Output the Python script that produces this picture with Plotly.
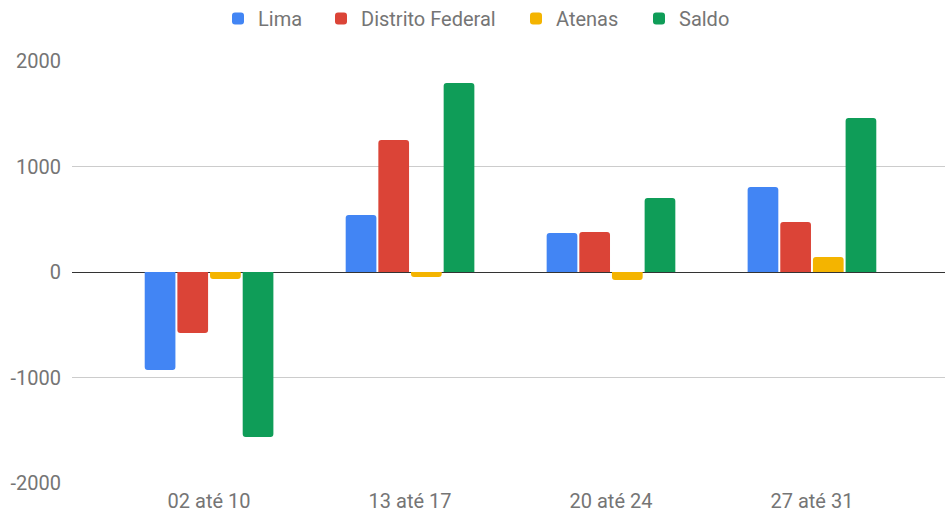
import plotly.graph_objects as go

categories = ["02 até 10", "13 até 17", "20 até 24", "27 até 31"]
lima = [-929, 540, 370, 806]
distrito_federal = [-578, 1251, 379, 474]
atenas = [-66, -47, -76, 142]
saldo = [-1564, 1791, 701, 1460]
y_ticks = [-2000, -1000, 0, 1000, 2000]
y_tick_labels = ["-2000", "-1000", "0", "1000", "2000"]

series = [
    ("Lima", lima, "#4285F4"),
    ("Distrito Federal", distrito_federal, "#DB4437"),
    ("Atenas", atenas, "#F4B400"),
    ("Saldo", saldo, "#0F9D58"),
]
legend_ids = ["legend", "legend2", "legend3", "legend4"]
legend_left = [218, 321, 516, 639]

fig = go.Figure()
for (name, vals, color), lid in zip(series, legend_ids):
    fig.add_trace(go.Bar(name=name, x=categories, y=vals, legend=lid,
                         marker=dict(color=color, line=dict(width=0))))

fig.update_layout(
    width=945, height=512,
    margin=dict(l=72, r=0, t=61, b=29, autoexpand=False),
    paper_bgcolor="white", plot_bgcolor="white",
    font=dict(family="Roboto", size=20, color="#757575"),
    barmode="group", bargap=0.35, bargroupgap=0.06, barcornerradius=3,
    showlegend=True,
)
for lid, left in zip(legend_ids, legend_left):
    fig.update_layout({lid: dict(orientation="h", x=left / 945, xanchor="left", xref="container",
                                 y=1.147, yanchor="top", yref="paper",
                                 font=dict(size=20, color="#757575"), itemwidth=30,
                                 bgcolor="rgba(0,0,0,0)")})
fig.update_xaxes(range=[-0.682, 3.662], showgrid=False, showline=False, ticks="",
                 ticklabelstandoff=4, tickfont=dict(size=20, color="#757575"))
fig.update_yaxes(range=[-2000, 2000], tickvals=y_ticks, ticktext=y_tick_labels,
                 showgrid=True, gridcolor="#cccccc", gridwidth=1,
                 zeroline=True, zerolinecolor="#333333", zerolinewidth=1, ticks="",
                 ticklabelstandoff=10, tickfont=dict(size=20, color="#757575"))

fig.write_html("out.html", config={"displayModeBar": False},
               post_script="document.body.style.margin='0';")
